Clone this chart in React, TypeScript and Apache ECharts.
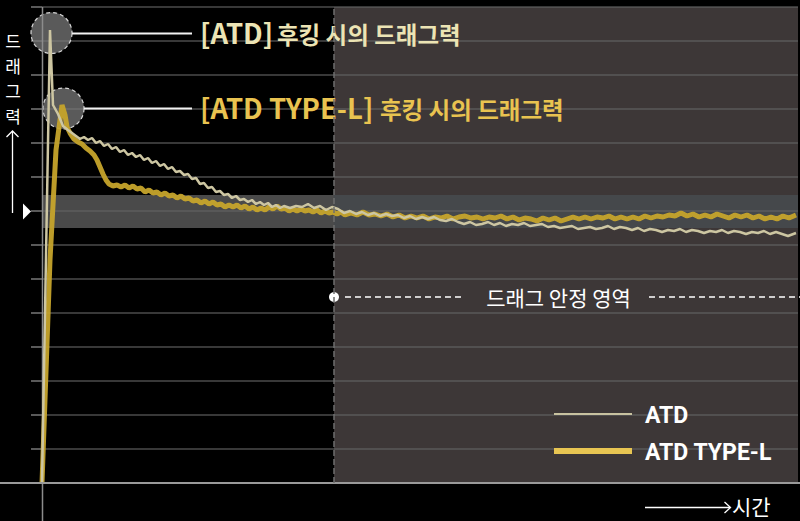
import React, { useEffect, useRef } from "react";
import * as echarts from "echarts";

// Time axis (arbitrary units) and drag-force axis (arbitrary units)
const timeMax = 756;
const dragMax = 476;
const dragStep = 34;
const stableStart = 292;
const bandLow = 255;
const bandHigh = 288;

const atdTime = [
  0, 8, 11, 16, 21, 26, 30, 34, 38, 42, 46, 50, 54, 58, 62, 66, 70, 74, 78, 82, 86, 90, 94, 98,
  102, 106, 110, 114, 118, 122, 126, 130, 134, 138, 142, 146, 150, 154, 158, 162, 166, 170, 174,
  178, 182, 186, 190, 194, 198, 202, 206, 210, 214, 218, 222, 226, 230, 234, 238, 242, 248, 254,
  260, 266, 272, 278, 284, 290, 296, 302, 308, 314, 320, 326, 332, 338, 344, 350, 356, 362, 368,
  374, 380, 386, 392, 398, 404, 410, 416, 422, 428, 434, 440, 446, 452, 458, 464, 470, 476, 482,
  488, 494, 500, 506, 512, 518, 524, 530, 536, 542, 548, 554, 560, 566, 572, 578, 584, 590, 596,
  602, 608, 614, 620, 626, 632, 638, 644, 650, 656, 662, 668, 674, 680, 686, 692, 698, 704, 710,
  716, 722, 728, 734, 740, 746, 754,
];
const atdDrag = [
  0, 453, 378, 369, 357, 353, 350, 347, 344, 346, 343, 345, 340, 342, 337, 339, 334, 336, 331, 333,
  328, 330, 326, 328, 323, 325, 320, 322, 317, 319, 314, 316, 311, 312, 308, 309, 304, 305, 299,
  300, 295, 296, 291, 292, 288, 289, 285, 287, 283, 284, 281, 283, 279, 281, 278, 280, 276, 278,
  275, 277, 275, 277, 276, 279, 275, 277, 273, 276, 274, 270, 272, 269, 271, 268, 270, 267, 269,
  267, 268, 265, 267, 264, 266, 264, 266, 263, 262, 264, 261, 259, 261, 258, 259, 261, 258, 260,
  257, 259, 258, 260, 257, 258, 259, 256, 257, 255, 256, 257, 254, 255, 256, 254, 255, 257, 254,
  256, 255, 253, 255, 252, 254, 253, 251, 253, 252, 254, 251, 253, 252, 250, 252, 251, 253, 250,
  252, 251, 249, 251, 250, 252, 249, 251, 249, 247, 250,
];

const typeLTime = [
  0, 8, 14, 20, 23, 25, 28, 32, 36, 40, 44, 48, 52, 55, 58, 61, 64, 67, 71, 75, 79, 83, 87, 91, 95,
  99, 103, 107, 111, 115, 119, 123, 127, 131, 135, 139, 143, 147, 151, 155, 159, 163, 167, 171,
  175, 179, 183, 187, 191, 195, 199, 203, 207, 211, 215, 219, 223, 227, 231, 235, 239, 243, 247,
  251, 255, 259, 263, 267, 271, 275, 279, 283, 287, 291, 295, 299, 303, 309, 315, 321, 327, 333,
  339, 345, 351, 357, 363, 369, 375, 381, 387, 393, 399, 405, 411, 417, 423, 429, 435, 441, 447,
  453, 459, 465, 471, 477, 483, 489, 495, 501, 507, 513, 519, 525, 531, 537, 543, 549, 555, 561,
  567, 573, 579, 585, 591, 597, 603, 609, 615, 621, 627, 633, 639, 645, 651, 657, 663, 669, 675,
  681, 687, 693, 699, 705, 711, 717, 723, 729, 735, 741, 747, 754,
];
const typeLDrag = [
  0, 223, 333, 378, 368, 356, 350, 344, 341, 339, 335, 332, 328, 323, 316, 309, 303, 299, 297, 298,
  296, 298, 295, 297, 294, 295, 291, 293, 290, 291, 288, 290, 287, 288, 285, 287, 284, 285, 282,
  283, 280, 282, 279, 281, 278, 279, 276, 278, 276, 278, 275, 277, 274, 276, 273, 275, 273, 276,
  274, 277, 274, 275, 272, 274, 272, 274, 272, 273, 271, 273, 270, 272, 270, 271, 269, 271, 268,
  270, 268, 271, 268, 269, 267, 269, 266, 268, 265, 267, 265, 267, 264, 266, 265, 267, 264, 266,
  267, 265, 266, 264, 266, 265, 267, 264, 266, 263, 265, 264, 262, 265, 263, 265, 262, 264, 266,
  264, 266, 264, 266, 265, 267, 264, 266, 264, 266, 264, 267, 265, 267, 266, 268, 267, 270, 267,
  269, 266, 268, 266, 269, 267, 265, 268, 266, 268, 265, 267, 264, 266, 264, 267, 265, 268,
];

const seriesNames = ["ATD", "ATD TYPE-L"];
const peakTags = ["[ATD]", "[ATD TYPE-L]"];
const peakText = "후킹 시의 드래그력";
const yAxisTitle = "드\n래\n그\n력";
const xAxisTitle = "시간";
const stableLabel = "드래그 안정 영역";

const KR = '"Noto Sans CJK KR", "Noto Sans", sans-serif';

export default function App() {
  const ref = useRef<HTMLDivElement>(null);

  useEffect(() => {
    if (!ref.current) return;
    const chart = echarts.init(ref.current, undefined, { renderer: "svg" });

    const atdData = atdTime.map((t, i) => [t, atdDrag[i]]);
    const typeLData = typeLTime.map((t, i) => [t, typeLDrag[i]]);

    const label = (text: string, x: number, y: number, fill: string, size: number, extra: any = {}) => ({
      type: "text",
      z: 5,
      style: {
        text,
        x,
        y,
        fill,
        fontFamily: KR,
        fontSize: size,
        textAlign: "left",
        textVerticalAlign: "middle",
        ...extra,
      },
    });

    const graphic: any[] = [
      // peak circles
      {
        type: "circle",
        z: 2.5,
        shape: { cx: 51.5, cy: 33, r: 20.5 },
        style: { fill: "rgba(120,120,120,0.75)", stroke: "#d8d8d8", lineWidth: 1.2, lineDash: [4, 3] },
      },
      {
        type: "circle",
        z: 2.5,
        shape: { cx: 63.5, cy: 108.5, r: 20.5 },
        style: { fill: "rgba(120,120,120,0.75)", stroke: "#d8d8d8", lineWidth: 1.2, lineDash: [4, 3] },
      },
      // axis lines
      {
        type: "line",
        z: 2.6,
        shape: { x1: 42.5, y1: 7, x2: 42.5, y2: 521 },
        style: { stroke: "#8c8c8c", lineWidth: 1.5 },
      },
      {
        type: "line",
        z: 4,
        shape: { x1: 0, y1: 483, x2: 800, y2: 483 },
        style: { stroke: "#9a9a9a", lineWidth: 2 },
      },
      // leader lines
      {
        type: "line",
        z: 5,
        shape: { x1: 72, y1: 33.5, x2: 192, y2: 33.5 },
        style: { stroke: "#f2f2f2", lineWidth: 1.8 },
      },
      {
        type: "line",
        z: 5,
        shape: { x1: 84, y1: 108.5, x2: 192, y2: 108.5 },
        style: { stroke: "#f2f2f2", lineWidth: 1.8 },
      },
      label(peakTags[0], 200, 32, "#ece4b4", 27.5, { fontWeight: "bold" }),
      label(peakText, 277, 34, "#ece4b4", 23.5, { fontWeight: "bold" }),
      label(peakTags[1], 200, 106.5, "#e9c350", 27.5, { fontWeight: "bold" }),
      label(peakText, 380, 108.5, "#e9c350", 23.5, { fontWeight: "bold" }),
      // y axis title + arrow
      label(yAxisTitle, 13, 78, "#ffffff", 17, { textAlign: "center", lineHeight: 25 }),
      {
        type: "line",
        z: 5,
        shape: { x1: 12.5, y1: 131, x2: 12.5, y2: 213 },
        style: { stroke: "#ffffff", lineWidth: 1.3 },
      },
      {
        type: "polyline",
        z: 5,
        shape: { points: [[6.5, 137], [12.5, 131], [18.5, 137]] },
        style: { stroke: "#ffffff", lineWidth: 1.3, fill: "none" },
      },
      {
        type: "polygon",
        z: 5,
        shape: { points: [[23, 203.5], [31, 211.5], [23, 219.5]] },
        style: { fill: "#ffffff" },
      },
      // x axis title + arrow
      {
        type: "line",
        z: 5,
        shape: { x1: 645, y1: 507.5, x2: 730, y2: 507.5 },
        style: { stroke: "#ffffff", lineWidth: 1.3 },
      },
      {
        type: "polyline",
        z: 5,
        shape: { points: [[724.5, 502], [730.5, 507.5], [724.5, 513]] },
        style: { stroke: "#ffffff", lineWidth: 1.3, fill: "none" },
      },
      label(xAxisTitle, 732, 505.5, "#ffffff", 21, { lineHeight: 21 }),
      // stable zone label
      {
        type: "circle",
        z: 5,
        shape: { cx: 334, cy: 297, r: 5 },
        style: { fill: "#ffffff" },
      },
      {
        type: "line",
        z: 5,
        shape: { x1: 345, y1: 297, x2: 463, y2: 297 },
        style: { stroke: "#ffffff", lineWidth: 1.5, lineDash: [6, 4] },
      },
      {
        type: "line",
        z: 5,
        shape: { x1: 649, y1: 297, x2: 800, y2: 297 },
        style: { stroke: "#ffffff", lineWidth: 1.5, lineDash: [6, 4] },
      },
      label(stableLabel, 558.5, 297, "#ffffff", 21, { textAlign: "center" }),
      // legend
      {
        type: "line",
        z: 5,
        shape: { x1: 554, y1: 414, x2: 632, y2: 414 },
        style: { stroke: "#c8c2a0", lineWidth: 2 },
      },
      {
        type: "line",
        z: 5,
        shape: { x1: 554, y1: 451, x2: 632, y2: 451 },
        style: { stroke: "#e8c552", lineWidth: 6 },
      },
      label(seriesNames[0], 645, 415, "#ffffff", 23, {
        fontFamily: "Roboto, sans-serif",
        fontWeight: "bold",
      }),
      label(seriesNames[1], 645, 452, "#ffffff", 23, {
        fontFamily: "Roboto, sans-serif",
        fontWeight: "bold",
      }),
    ];

    chart.setOption({
      animation: false,
      backgroundColor: "#000000",
      grid: { left: 42, right: 2, top: 7, bottom: 38, outerBoundsMode: "none" } as any,
      xAxis: {
        type: "value",
        min: 0,
        max: timeMax,
        axisLine: { show: false },
        axisTick: { show: false },
        axisLabel: { show: false },
        splitLine: { show: false },
      },
      yAxis: {
        type: "value",
        min: 0,
        max: dragMax,
        interval: dragStep,
        z: 1.5,
        axisLine: { show: false },
        axisTick: { show: true, length: 11, lineStyle: { color: "#777777", width: 1.5 } },
        axisLabel: { show: false },
        splitLine: { show: true, lineStyle: { color: "rgba(100,100,100,0.75)", width: 1.5 } },
      },
      graphic,
      series: [
        {
          name: "bg",
          type: "line",
          data: [],
          z: 1,
          silent: true,
          symbol: "none",
          markArea: {
            silent: true,
            data: [
              [
                { xAxis: stableStart, yAxis: 0, itemStyle: { color: "#3d3737" } },
                { xAxis: timeMax, yAxis: dragMax },
              ],
              [
                { xAxis: 0, yAxis: bandLow, itemStyle: { color: "#4a4a4a" } },
                { xAxis: stableStart, yAxis: bandHigh },
              ],
              [
                { xAxis: stableStart, yAxis: bandLow, itemStyle: { color: "#45484b" } },
                { xAxis: timeMax, yAxis: bandHigh },
              ],
            ],
          },
          markLine: {
            silent: true,
            symbol: ["none", "none"],
            label: { show: false },
            lineStyle: { color: "#6e6e6e", type: [6, 3], width: 1.5 },
            data: [{ xAxis: stableStart }],
          },
        },
        {
          name: seriesNames[1],
          type: "line",
          data: typeLData,
          z: 3,
          symbol: "none",
          lineStyle: { color: "#c6a42b", width: 5, opacity: 0.95 },
        },
        {
          name: seriesNames[0],
          type: "line",
          data: atdData,
          z: 3,
          symbol: "none",
          lineStyle: { color: "#cdc6a2", width: 2.5 },
        },
      ],
    });

    return () => {
      chart.dispose();
    };
  }, []);

  return (
    <div
      ref={ref}
      style={{ position: "fixed", left: 0, top: 0, width: 800, height: 521, background: "#000" }}
    />
  );
}
